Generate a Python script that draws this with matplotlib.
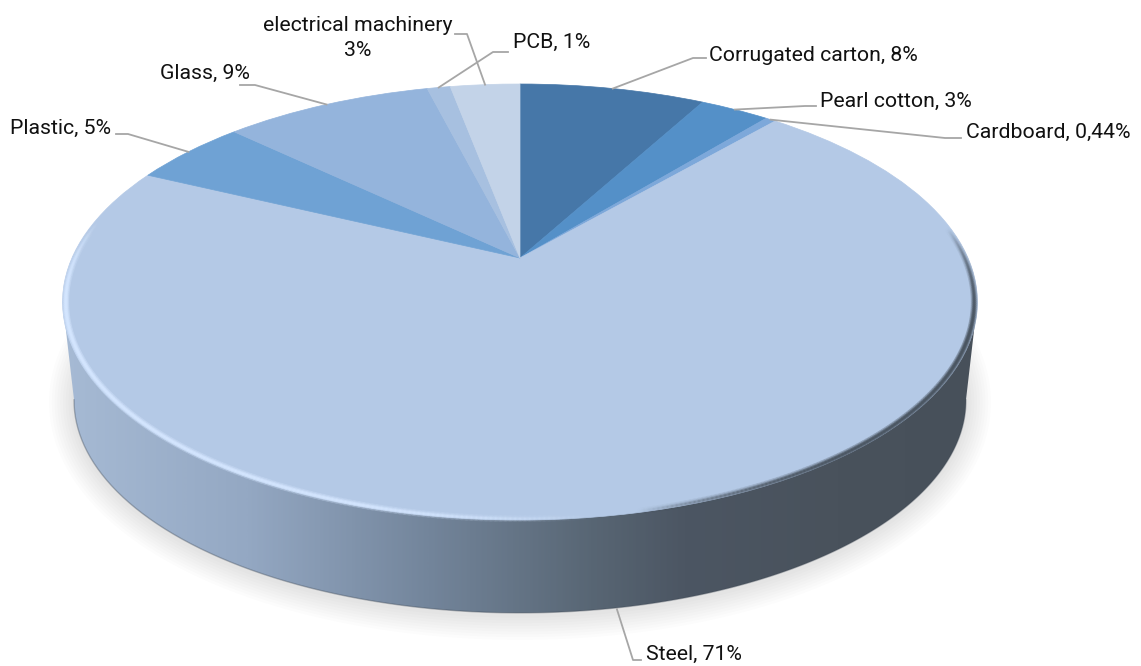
import numpy as np
import matplotlib
matplotlib.use("Agg")
import matplotlib.pyplot as plt
from matplotlib.collections import LineCollection
from matplotlib.colors import LinearSegmentedColormap, to_rgb
from matplotlib.patches import Polygon
from matplotlib.transforms import Transform

plt.rcParams['font.family'] = ['Roboto', 'DejaVu Sans']

# clockwise from 12 o'clock
names = ['Corrugated carton', 'Pearl cotton', 'Cardboard', 'Steel', 'Plastic', 'Glass', 'PCB', 'electrical machinery']
values = [8, 3, 0.44, 71, 5, 9, 1, 3]
value_text = ['8%', '3%', '0,44%', '71%', '5%', '9%', '1%', '3%']
colors = ['#4677a8', '#5490c8', '#7da8da', '#b4c9e6', '#6fa2d4', '#94b4dc', '#a7c0e0', '#c3d3e8']

# label layout in pixels: text anchor and the elbow of the leader line
label_x = [709, 820, 966, 646, 10, 160, 513, 358]
label_y = [55.5, 101.5, 132.5, 654.5, 128.5, 73.5, 42.5, 38]
elbow_x = [693, 805, 945, 633, 128, 255, 493, 467]
elbow_y = [58, 106, 138, 660, 134, 85, 52, 34]
tail_x = [706, 816, 961, 641, 116, 240, 508, 455]

# projection of the unit disc onto the page
apex_x, apex_y = 520, 258
persp_a, persp_b, persp_k = 448, 209.1, 0.2018
depth_scale, depth_dy = 0.975, 99.5


def project(x, y, scale=1.0, dy=0.0):
    w = 1 + persp_k * y
    return apex_x + persp_a * scale * x / w, apex_y + dy - persp_b * scale * y / w


class DiscTransform(Transform):
    input_dims = 2
    output_dims = 2
    is_separable = False
    has_inverse = False

    def transform_non_affine(self, values):
        values = np.asarray(values)
        px, py = project(values[:, 0], values[:, 1])
        return np.column_stack([px, py])


fig = plt.figure(figsize=(11.41, 6.66), dpi=100)
ax = fig.add_axes([0, 0, 1, 1])

wedges, _ = ax.pie(values, colors=colors, startangle=90, counterclock=False, radius=1,
                   wedgeprops={'linewidth': 0.5})
for w, c in zip(wedges, colors):
    w.set_edgecolor(c)
    w.set_transform(DiscTransform() + ax.transData)
    w.set_zorder(3)

ax.set_aspect('auto')
ax.set_xlim(0, 1141)
ax.set_ylim(666, 0)
ax.axis('off')

t = np.linspace(0, 2 * np.pi, 721)
top_x, top_y = project(np.cos(t), np.sin(t))
low_x, low_y = project(np.cos(t), np.sin(t), depth_scale, depth_dy)

# soft ground shadow
for lw in range(36, 0, -4):
    ax.add_patch(Polygon(np.column_stack([low_x, low_y + 2]), closed=True, facecolor='none',
                         edgecolor='black', alpha=0.01, linewidth=lw, zorder=1, joinstyle='round'))

# side wall: lower rim between its widest points, closed on the widest points of the top rim
left_i, right_i = np.argmin(top_x), np.argmax(top_x)
low_left, low_right = np.argmin(low_x), np.argmax(low_x)
lhx, lhy = low_x[low_left:low_right + 1], low_y[low_left:low_right + 1]
side_pts = np.vstack([[top_x[left_i], top_y[left_i]],
                      np.column_stack([lhx, lhy]),
                      [top_x[right_i], top_y[right_i]]])
side = Polygon(side_pts, closed=True, facecolor='none', edgecolor='none', zorder=2)
ax.add_patch(side)
side_cmap = LinearSegmentedColormap.from_list('side', [
    (0.00, '#a6bad4'), (0.20, '#94a8c3'), (0.40, '#73859b'), (0.58, '#586674'),
    (0.68, '#4c5663'), (0.85, '#49525c'), (1.00, '#47505a')])
grad = ax.imshow(np.linspace(0, 1, 400)[None, :], cmap=side_cmap, aspect='auto',
                 extent=[62, 977, 620, 280], zorder=2, interpolation='bilinear')
grad.set_clip_path(side)
ax.set_xlim(0, 1141)
ax.set_ylim(666, 0)
ax.plot(lhx, lhy, color='#3a4450', alpha=0.35, lw=1, zorder=2.5)

# bevel on the rim: bright on the lower left, dark and blurred on the right
rim_x, rim_y = project(np.cos(t), np.sin(t), 0.993, 0.5)
seg = np.stack([np.column_stack([rim_x[:-1], rim_y[:-1]]), np.column_stack([rim_x[1:], rim_y[1:]])], axis=1)
mid_x = (rim_x[:-1] + rim_x[1:]) / 2
mid_y = (rim_y[:-1] + rim_y[1:]) / 2
for lw, strength in [(5, 0.2), (3, 0.4), (1.5, 0.7)]:
    rgba = np.zeros((len(seg), 4))
    light = np.clip((600 - mid_x) / 250, 0, 1) * np.clip((mid_y - 220) / 80, 0, 1)
    dark = np.clip((mid_x - 640) / 200, 0, 1) * np.clip((mid_y - 230) / 110, 0, 1)
    rgba[:, :3] = np.where((mid_x < 610)[:, None], to_rgb('#d4e6ff'), to_rgb('#4a5561'))
    rgba[:, 3] = np.where(mid_x < 610, light, dark) * strength
    ax.add_collection(LineCollection(seg, colors=rgba, linewidths=lw, zorder=4, capstyle='round'))

# leader lines and labels
fracs = np.array(values) / np.sum(values)
mids = (np.cumsum(fracs) - fracs / 2) * 2 * np.pi
for i, name in enumerate(names):
    sx, sy = project(np.sin(mids[i]), np.cos(mids[i]))
    if name == 'Steel':
        sx, sy = project(np.sin(mids[i]), np.cos(mids[i]), depth_scale, depth_dy)
        sx -= 14
        sy += 3
    ax.plot([sx, elbow_x[i], tail_x[i]], [sy, elbow_y[i], elbow_y[i]], color='#a6a6a6', lw=1.3, zorder=5,
            solid_joinstyle='round')
    if name == 'electrical machinery':
        ax.text(label_x[i], label_y[i], name + '\n' + value_text[i], ha='center', va='center',
                fontsize=15.3, color='#111111', zorder=6, linespacing=1.45)
    else:
        ax.text(label_x[i], label_y[i], name + ', ' + value_text[i], ha='left', va='center',
                fontsize=15.3, color='#111111', zorder=6)

fig.savefig('out.png', dpi=100)
